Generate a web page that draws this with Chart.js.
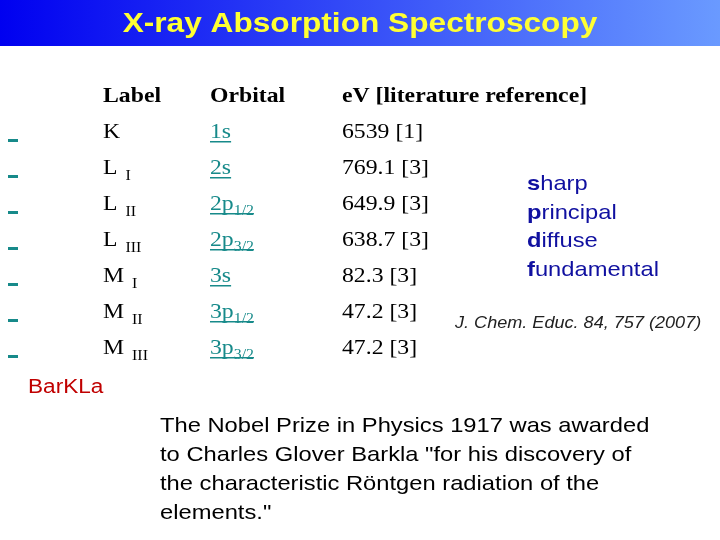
<!DOCTYPE html>
<html><head><meta charset="utf-8">
<script src="https://cdn.jsdelivr.net/npm/chart.js@4"></script>
<style>html,body{margin:0;padding:0;background:#fff}#wrap{width:720px;height:540px}</style>
</head><body><div id="wrap"><canvas id="c" width="720" height="540"></canvas></div>
<script>
const labels = ['K','L','L','L','M','M','M'];
const labelSubs = ['','I','II','III','I','II','III'];
const orbitals = ['1s','2s','2p','2p','3s','3p','3p'];
const orbitalSubs = ['','','1/2','3/2','','1/2','3/2'];
const energies = [6539, 769.1, 649.9, 638.7, 82.3, 47.2, 47.2];
const refs = [1, 3, 3, 3, 3, 3, 3];
const terms = ['sharp','principal','diffuse','fundamental'];
const rows = labels.map((l,i)=>({x:energies[i], y:i}));

const serif = '"Liberation Serif","DejaVu Serif",serif';
const sans = '"Liberation Sans",Arial,sans-serif';
const teal = '#178a8a';
const SX = 1.13;

function txt(ctx,t,x,y){ctx.save();ctx.translate(x,y);ctx.scale(SX,1);ctx.fillText(t,0,0);ctx.restore();return ctx.measureText(t).width*SX;}

const slide = {
  id:'slide',
  beforeDraw(chart){
    const ctx = chart.ctx;
    ctx.save();
    ctx.fillStyle='#fff'; ctx.fillRect(0,0,720,540);
    const g = ctx.createLinearGradient(0,0,720,0);
    g.addColorStop(0,'#0000f0'); g.addColorStop(1,'#6a9aff');
    ctx.fillStyle=g; ctx.fillRect(0,0,720,46);
    ctx.fillStyle='#ffff33'; ctx.font='bold 28px '+sans; ctx.textAlign='center'; ctx.textBaseline='middle';
    ctx.translate(360,24); ctx.scale(SX,1); ctx.fillText('X-ray Absorption Spectroscopy',0,0);
    ctx.restore();
  },
  afterDraw(chart){
    const ctx = chart.ctx, ys = chart.scales.y;
    ctx.save();
    ctx.textBaseline='alphabetic'; ctx.textAlign='left';
    ctx.fillStyle='#000'; ctx.font='bold 21px '+serif;
    txt(ctx,'Label',103,102); txt(ctx,'Orbital',210,102); txt(ctx,'eV [literature reference]',342,102);
    rows.forEach((r,i)=>{
      const b = ys.getPixelForValue(r.y)+8;
      ctx.fillStyle=teal; ctx.fillRect(8,b+1,10,3);
      ctx.fillStyle='#000'; ctx.font='21px '+serif;
      const lw = txt(ctx,labels[i],103,b);
      ctx.font='14px '+serif; txt(ctx,labelSubs[i],103+lw+8,b+6);
      ctx.font='21px '+serif;
      txt(ctx,energies[i]+' ['+refs[i]+']',342,b);
      ctx.fillStyle=teal;
      let w = txt(ctx,orbitals[i],210,b);
      if(orbitalSubs[i]){ctx.font='14px '+serif; w+=txt(ctx,orbitalSubs[i],210+w,b+5);}
      ctx.fillRect(210,b+3,w,1.5);
    });
    ctx.fillStyle='#1010a0';
    terms.forEach((t,i)=>{
      const y=190+i*28.7;
      ctx.font='bold 21px '+sans; const w=txt(ctx,t[0],527,y);
      ctx.font='21px '+sans; txt(ctx,t.slice(1),527+w,y);
    });
    ctx.fillStyle='#222'; ctx.font='italic 16px '+sans;
    txt(ctx,'J. Chem. Educ. 84, 757 (2007)',455,328);
    ctx.fillStyle='#c00000'; ctx.font='20px '+sans;
    txt(ctx,'BarKLa',28,393);
    ctx.fillStyle='#000'; ctx.font='21px '+sans;
    ['The Nobel Prize in Physics 1917 was awarded','to Charles Glover Barkla "for his discovery of','the characteristic Röntgen radiation of the','elements."'].forEach((l,i)=>txt(ctx,l,160,432+i*29));
    ctx.restore();
  }
};
new Chart(document.getElementById('c'),{
  type:'scatter',
  data:{datasets:[{data:rows,pointRadius:0,pointHoverRadius:0,showLine:false}]},
  options:{responsive:false,animation:false,events:[],
    layout:{padding:{top:112,bottom:176,left:0,right:0}},
    plugins:{legend:{display:false},tooltip:{enabled:false}},
    scales:{x:{display:false,type:'logarithmic',min:10,max:10000},y:{display:false,min:-0.5,max:6.5,reverse:true}}},
  plugins:[slide]
});
</script></body></html>
